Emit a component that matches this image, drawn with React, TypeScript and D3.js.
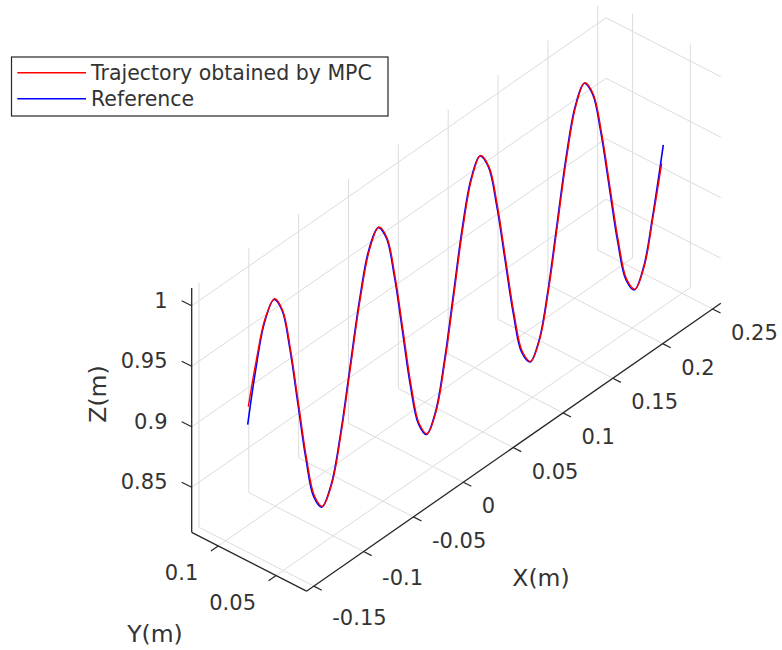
import React from 'react';
import * as d3 from 'd3';

// ---- tick values / labels ----
const X_TICKS = [-0.15, -0.1, -0.05, 0, 0.05, 0.1, 0.15, 0.2, 0.25];
const X_TICK_LABELS = ['-0.15', '-0.1', '-0.05', '0', '0.05', '0.1', '0.15', '0.2', '0.25'];
const Y_TICKS = [0.05, 0.1];
const Y_TICK_LABELS = ['0.05', '0.1'];
const Z_TICKS = [0.85, 0.9, 0.95, 1];
const Z_TICK_LABELS = ['0.85', '0.9', '0.95', '1'];

const X_DOMAIN = [-0.1573, 0.2583];
const Y_DOMAIN = [0.0236, 0.123];
const Z_DOMAIN = [0.8128, 1.0147];

const SERIES_NAMES = ['Trajectory obtained by MPC', 'Reference'];

// ---- data (x, z) ; y is constant for the trajectory ----
const TRAJ_Y = 0.0764;

const refX = [-0.1551, -0.1476, -0.1382, -0.1287, -0.1207, -0.1128, -0.1048, -0.0968, -0.0889, -0.0809,
  -0.0714, -0.0620, -0.0525, -0.0430, -0.0336, -0.0241, -0.0161, -0.0080, 0.0001, 0.0081, 0.0162, 0.0242,
  0.0332, 0.0421, 0.0511, 0.0600, 0.0690, 0.0779, 0.0863, 0.0946, 0.1030, 0.1114, 0.1197, 0.1281,
  0.1372, 0.1462, 0.1553, 0.1644, 0.1734, 0.1825, 0.1909, 0.1992, 0.2076, 0.2160, 0.2243, 0.2327,
  0.2419, 0.2510, 0.2618];
const refZ = [0.9234, 0.9618, 0.9982, 1.0116, 0.9982, 0.9618, 0.9120, 0.8622, 0.8258, 0.8126,
  0.8258, 0.8622, 0.9120, 0.9618, 0.9982, 1.0111, 0.9982, 0.9618, 0.9120, 0.8622, 0.8258, 0.8125,
  0.8258, 0.8622, 0.9120, 0.9618, 0.9982, 1.0119, 0.9982, 0.9618, 0.9120, 0.8622, 0.8258, 0.8129,
  0.8258, 0.8622, 0.9120, 0.9618, 0.9982, 1.0121, 0.9982, 0.9618, 0.9120, 0.8622, 0.8258, 0.8125,
  0.8258, 0.8622, 0.9157];

const mpcX = [-0.1545, -0.1468, -0.1376, -0.1280, -0.1200, -0.1121, -0.1041, -0.0961, -0.0882, -0.0803,
  -0.0707, -0.0613, -0.0518, -0.0423, -0.0329, -0.0235, -0.0154, -0.0073, 0.0008, 0.0088, 0.0168, 0.0248,
  0.0339, 0.0428, 0.0518, 0.0607, 0.0697, 0.0785, 0.0870, 0.0953, 0.1037, 0.1121, 0.1204, 0.1287,
  0.1379, 0.1469, 0.1560, 0.1651, 0.1741, 0.1831, 0.1916, 0.1999, 0.2083, 0.2167, 0.2250, 0.2333,
  0.2426, 0.2517, 0.2602];
const mpcZ = [0.9378, 0.9705, 1.0010, 1.0118, 0.9975, 0.9605, 0.9112, 0.8618, 0.8262, 0.8130,
  0.8262, 0.8630, 0.9128, 0.9622, 0.9980, 1.0113, 0.9978, 0.9610, 0.9115, 0.8620, 0.8260, 0.8128,
  0.8262, 0.8628, 0.9125, 0.9620, 0.9983, 1.0120, 0.9977, 0.9612, 0.9114, 0.8619, 0.8260, 0.8131,
  0.8262, 0.8627, 0.9126, 0.9622, 0.9984, 1.0122, 0.9978, 0.9611, 0.9115, 0.8620, 0.8259, 0.8128,
  0.8261, 0.8628, 0.9015];

// ---- projection built from d3 linear scales ----
const ORIGIN = { x: 191.7, y: 532.3 }; // screen of (xmin, ymax, zmin)
const sxFromX = d3.scaleLinear().domain(X_DOMAIN).range([0, 414.3]);
const syFromX = d3.scaleLinear().domain(X_DOMAIN).range([0, -288.0]);
const sxFromY = d3.scaleLinear().domain(Y_DOMAIN).range([114.8, 0]);
const syFromY = d3.scaleLinear().domain(Y_DOMAIN).range([58.9, 0]);
const syFromZ = d3.scaleLinear().domain(Z_DOMAIN).range([0, -244.3]);

function P(x: number, y: number, z: number): [number, number] {
  return [ORIGIN.x + sxFromX(x) + sxFromY(y), ORIGIN.y + syFromX(x) + syFromY(y) + syFromZ(z)];
}

const GRID = '#dcdcdc';
const AXIS = '#262626';
const TEXT = '#333333';
const FONT = 'DejaVu Sans';

export default function App() {
  const [x0, x1] = X_DOMAIN;
  const [y0, y1] = Y_DOMAIN;
  const [z0, z1] = Z_DOMAIN;

  const seg = (a: [number, number], b: [number, number], key: string, color: string, w: number) => (
    <line key={key} x1={a[0]} y1={a[1]} x2={b[0]} y2={b[1]} stroke={color} strokeWidth={w} />
  );

  const grid: JSX.Element[] = [];
  // back wall y = ymax
  X_TICKS.forEach((t, i) => grid.push(seg(P(t, y1, z0), P(t, y1, z1), 'bwx' + i, GRID, 1)));
  Z_TICKS.forEach((t, i) => grid.push(seg(P(x0, y1, t), P(x1, y1, t), 'bwz' + i, GRID, 1)));
  // side wall x = xmax
  Y_TICKS.forEach((t, i) => grid.push(seg(P(x1, t, z0), P(x1, t, z1), 'swy' + i, GRID, 1)));
  Z_TICKS.forEach((t, i) => grid.push(seg(P(x1, y1, t), P(x1, y0, t), 'swz' + i, GRID, 1)));
  // floor z = zmin
  X_TICKS.forEach((t, i) => grid.push(seg(P(t, y0, z0), P(t, y1, z0), 'flx' + i, GRID, 1)));
  Y_TICKS.forEach((t, i) => grid.push(seg(P(x0, t, z0), P(x1, t, z0), 'fly' + i, GRID, 1)));

  const line = d3.line<[number, number]>().curve(d3.curveCatmullRom.alpha(0.5));
  const refPts = refX.map((x, i) => P(x, TRAJ_Y, refZ[i]));
  const mpcPts = mpcX.map((x, i) => P(x, TRAJ_Y, mpcZ[i]));

  const axes: JSX.Element[] = [];
  axes.push(seg(P(x0, y1, z0), P(x0, y1, z1), 'zaxis', AXIS, 1.3));
  axes.push(seg(P(x0, y1, z0), P(x0, y0, z0), 'yaxis', AXIS, 1.3));
  axes.push(seg(P(x0, y0, z0), P(x1, y0, z0), 'xaxis', AXIS, 1.3));

  const labels: JSX.Element[] = [];
  X_TICKS.forEach((t, i) => {
    const p = P(t, y0, z0);
    axes.push(seg(p, [p[0] + 8, p[1] + 4.1], 'xt' + i, AXIS, 1.2));
    const dy = i === 0 ? 31 : i === 1 ? 25.5 : 23.5;
    labels.push(
      <text key={'xl' + i} x={p[0] + 18.5} y={p[1] + dy + 7.6} fontSize={21} textAnchor="start">
        {X_TICK_LABELS[i]}
      </text>
    );
  });
  Y_TICKS.forEach((t, i) => {
    const p = P(x0, t, z0);
    axes.push(seg(p, [p[0] - 7.4, p[1] + 5.1], 'yt' + i, AXIS, 1.2));
    labels.push(
      <text key={'yl' + i} x={p[0] - 20} y={p[1] + 26.5 + 7.6} fontSize={21} textAnchor="end">
        {Y_TICK_LABELS[i]}
      </text>
    );
  });
  Z_TICKS.forEach((t, i) => {
    const p = P(x0, y1, t);
    axes.push(seg(p, [p[0] - 10, p[1] - 5], 'zt' + i, AXIS, 1.2));
    labels.push(
      <text key={'zl' + i} x={167.5} y={p[1] - 5.5 + 7.6} fontSize={21} textAnchor="end">
        {Z_TICK_LABELS[i]}
      </text>
    );
  });

  return (
    <svg width={782} height={650} style={{ position: 'absolute', left: 0, top: 0, background: '#fff' }}
      fontFamily={FONT}>
      <rect x={0} y={0} width={782} height={650} fill="#fff" />
      <g>{grid}</g>
      <path d={line(refPts) || ''} fill="none" stroke="#0000ff" strokeWidth={1.6} />
      <path d={line(mpcPts) || ''} fill="none" stroke="#ff0000" strokeWidth={1.4} />
      <g>{axes}</g>
      <g fill={TEXT}>{labels}</g>
      <g fill={TEXT} fontSize={23.5}>
        <text x={541} y={578} textAnchor="middle" dominantBaseline="central">X(m)</text>
        <text x={155} y={634} textAnchor="middle" dominantBaseline="central">Y(m)</text>
        <text transform="translate(98,394) rotate(-90)" textAnchor="middle" dominantBaseline="central">Z(m)</text>
      </g>
      <g>
        <rect x={11.5} y={57} width={376.5} height={59} fill="#fff" stroke={AXIS} strokeWidth={1.2} />
        <line x1={17.3} x2={86} y1={72.7} y2={72.7} stroke="#ff0000" strokeWidth={1.6} />
        <line x1={17.3} x2={86} y1={98.7} y2={98.7} stroke="#0000ff" strokeWidth={1.6} />
        <text x={91} y={80.2} fontSize={20.5} fill={TEXT}>{SERIES_NAMES[0]}</text>
        <text x={91} y={106.2} fontSize={20.5} fill={TEXT}>{SERIES_NAMES[1]}</text>
      </g>
    </svg>
  );
}
